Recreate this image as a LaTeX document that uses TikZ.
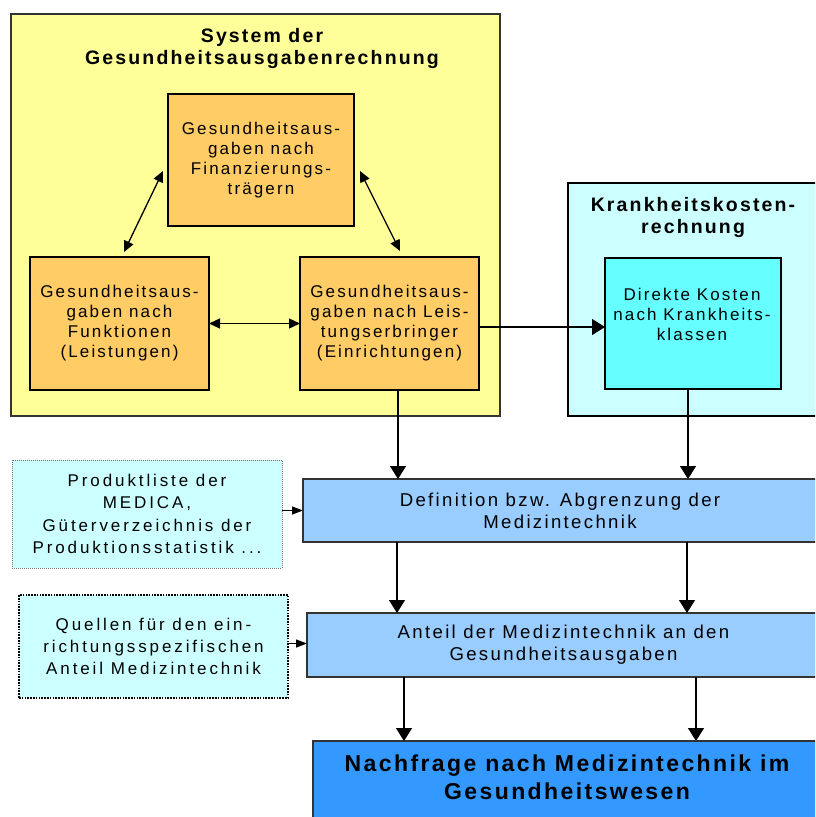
\documentclass[tikz,border=0pt]{standalone}
\usepackage{fontspec}
\setmainfont{Liberation Sans}
\newfontfamily\fA[LetterSpace=12.5]{Liberation Sans}
\newfontfamily\fB[LetterSpace=17]{Liberation Sans}
\newfontfamily\fC[LetterSpace=11]{Liberation Sans}
\newfontfamily\fD[LetterSpace=10.5]{Liberation Sans}
\usetikzlibrary{arrows.meta}
\definecolor{cYellow}{HTML}{FFFF99}
\definecolor{cOrange}{HTML}{FFCC66}
\definecolor{cLCyan}{HTML}{CCFFFF}
\definecolor{cCyan}{HTML}{66FFFF}
\definecolor{cLBlue}{HTML}{99CCFF}
\definecolor{cBlue}{HTML}{3399FF}
\begin{document}
\begin{tikzpicture}[x=1pt,y=-1pt,
  box/.style={draw, rectangle, inner sep=0pt, outer sep=0pt, align=center},
  yframe/.style={box, draw=black!80, line width=1.5pt, fill=cYellow},
  cframe/.style={box, draw=black, line width=1.8pt, fill=cLCyan},
  obox/.style={box, draw=black, line width=2pt, fill=cOrange,
    font=\fA\fontsize{17}{20}\selectfont},
  cbox/.style={box, draw=black, line width=2pt, fill=cCyan},
  bbox/.style={box, draw=black!80, line width=1.4pt, fill=cLBlue,
    font=\fA\fontsize{18.6}{22}\selectfont},
  nbox/.style={box, draw=black!80, line width=1.4pt, fill=cBlue},
  srcA/.style={box, draw=black!55, line width=1pt, dash pattern=on 1pt off 1pt,
    fill=cLCyan, font=\fB\fontsize{17}{22.3}\selectfont},
  srcB/.style={box, draw=black, line width=1.6pt, dash pattern=on 1.6pt off 1.2pt,
    fill=cLCyan, font=\fB\fontsize{17}{22}\selectfont},
  txt/.style={inner sep=0pt, outer sep=0pt, align=center},
  ttl/.style={txt, font=\fC\bfseries\fontsize{19.5}{22}\selectfont},
  arr/.style={line width=1.3pt, -{Triangle[length=13pt,width=16pt]}},
  darr/.style={line width=1.3pt, {Triangle[length=11pt,width=10pt]}-{Triangle[length=11pt,width=10pt]}},
  sarr/.style={line width=1.3pt, -{Triangle[length=11pt,width=8pt]}}
]
\path[use as bounding box] (0,0) rectangle (815,817);
\clip (0,0) rectangle (815,817);
\fill[white] (0,0) rectangle (815,817);

% frames
\node[yframe, minimum width=489pt, minimum height=402pt] (sys) at (255.5,215) {};
\node[ttl, anchor=north] (syst) at (262,28) {System der\\Gesundheitsausgabenrechnung};
\node[cframe, minimum width=250pt, minimum height=233pt] (kkr) at (693,299.5) {};
\node[ttl, anchor=north, font=\fC\bfseries\fontsize{19.5}{22.5}\selectfont] (kkrt) at (693,197) {Krankheitskosten-\\rechnung};

% orange boxes
\node[obox, minimum width=186pt, minimum height=132pt] (tob) at (261,160) {Gesundheitsaus-\\gaben nach\\Finanzierungs-\\trägern};
\node[obox, minimum width=179pt, minimum height=133pt] (lob) at (119.5,323.5) {Gesundheitsaus-\\gaben nach\\Funktionen\\(Leistungen)};
\node[obox, minimum width=179pt, minimum height=133pt] (rob) at (389.5,323.5) {Gesundheitsaus-\\gaben nach Leis-\\tungserbringer\\(Einrichtungen)};

% inner cyan
\node[cbox, minimum width=176pt, minimum height=131pt] (kk) at (693,323.5) {};
\node[txt, anchor=north, font=\fA\fontsize{17}{20}\selectfont] (kkt) at (692,288) {Direkte Kosten\\nach Krankheits-\\klassen};

% blue boxes
\node[bbox, minimum width=514pt, minimum height=63pt] (def) at (560,510.5) {Definition bzw. Abgrenzung der\\Medizintechnik};
\node[bbox, minimum width=513pt, minimum height=64pt] (ant) at (563.5,645) {Anteil der Medizintechnik an den\\Gesundheitsausgaben};
\node[nbox, minimum width=509pt, minimum height=89pt] (nach) at (567.5,785.5) {};
\node[txt, anchor=north, font=\fD\bfseries\fontsize{23}{27.5}\selectfont] (nacht) at (567,755) {Nachfrage nach Medizintechnik im\\Gesundheitswesen};

% source boxes
\node[srcA, minimum width=270pt, minimum height=108pt] (pl) at (147,514) {Produktliste der\\MEDICA,\\Güterverzeichnis der\\Produktionsstatistik ...};
\node[srcB, minimum width=269pt, minimum height=103pt] (ql) at (153.5,646.5) {Quellen für den ein-\\richtungsspezifischen\\Anteil Medizintechnik};

% connectors
\draw[darr] ([xshift=4.5pt,yshift=5pt]lob.north) -- ([xshift=-5pt,yshift=-11pt]tob.west);
\draw[darr] ([xshift=6pt,yshift=-11pt]tob.east) -- ([xshift=10.5pt,yshift=6pt]rob.north);
\draw[darr] (lob.east) -- (rob.west);
\draw[arr] ([yshift=-3.5pt]rob.east) -- ([yshift=-3.5pt]kk.west);

\coordinate (xa) at (398,0);
\coordinate (xb) at (688,0);
\coordinate (xc) at (397,0);
\coordinate (xd) at (687,0);
\coordinate (xe) at (404,0);
\coordinate (xf) at (696,0);
\draw[arr] (rob.south -| xa) -- (def.north -| xa);
\draw[arr] (kk.south -| xb) -- (def.north -| xb);
\draw[arr] (def.south -| xc) -- (ant.north -| xc);
\draw[arr] (def.south -| xd) -- (ant.north -| xd);
\draw[arr] (ant.south -| xe) -- (nach.north -| xe);
\draw[arr] (ant.south -| xf) -- (nach.north -| xf);
\draw[sarr] (pl.east |- def.west) -- (def.west);
\draw[sarr] ([yshift=1.5pt]ql.east |- ant.west) -- ([yshift=1.5pt]ant.west);
\end{tikzpicture}
\end{document}
